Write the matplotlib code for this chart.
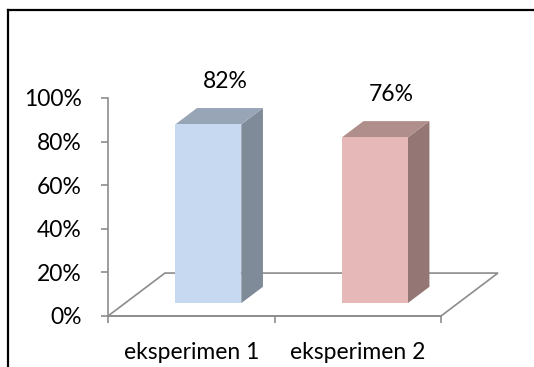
import matplotlib.pyplot as plt
from matplotlib.patches import Polygon
from matplotlib.lines import Line2D

# data
categories = ['eksperimen 1', 'eksperimen 2']
values = [82, 76]
front_colors = ['#C6D9F0', '#E6B9B8']
side_colors = ['#7F8B98', '#947775']
top_colors = ['#98A5B7', '#B08E8B']

plt.rcParams['font.family'] = ['Lato', 'DejaVu Sans']

fig = plt.figure(figsize=(5.34, 3.67), dpi=100)
ax = fig.add_axes([108 / 534, 51 / 367, 333 / 534, 218 / 367])
ax.set_xlim(0, 2)
ax.set_ylim(0, 100)

# oblique depth of floor in data units
DX, DY = 0.342, 19.7
d0, d1 = 0.30, 0.68   # bar front/back depth fraction
bw = 0.396

grey = '#8C8C8C'
fs = 16.5

# floor
floor = [(0, 0), (2, 0), (2 + DX, DY), (DX, DY)]
ax.add_patch(Polygon(floor, closed=True, fill=False, edgecolor=grey,
                     lw=1.2, clip_on=False, zorder=1))

for i, (v, fc, sc, tc) in enumerate(zip(values, front_colors, side_colors, top_colors)):
    xc = i + 0.5
    x0 = xc - bw / 2 + d0 * DX
    x1 = xc + bw / 2 + d0 * DX
    y0 = d0 * DY
    y1 = y0 + v
    ddx = (d1 - d0) * DX
    ddy = (d1 - d0) * DY
    front = [(x0, y0), (x1, y0), (x1, y1), (x0, y1)]
    side = [(x1, y0), (x1 + ddx, y0 + ddy), (x1 + ddx, y1 + ddy), (x1, y1)]
    top = [(x0, y1), (x1, y1), (x1 + ddx, y1 + ddy), (x0 + ddx, y1 + ddy)]
    for pts, c in [(side, sc), (top, tc), (front, fc)]:
        ax.add_patch(Polygon(pts, closed=True, facecolor=c, edgecolor='none',
                             clip_on=False, zorder=3))
    # value label above the bar
    ax.text((x0 + x1 + ddx) / 2 + 0.035, y1 + ddy + 12, f'{v}%', ha='center',
            va='center', fontsize=fs, color='black')

# axes styling
for s in ['top', 'right']:
    ax.spines[s].set_visible(False)
for s in ['left', 'bottom']:
    ax.spines[s].set_color(grey)
    ax.spines[s].set_linewidth(1.2)
ax.set_yticks(range(0, 101, 20))
ax.set_yticklabels([f'{t}%' for t in range(0, 101, 20)])
ax.set_xticks([0, 1, 2])
ax.set_xticklabels([])
ax.set_xticks([0.5, 1.5], minor=True)
ax.set_xticklabels(categories, minor=True)
ax.tick_params(axis='y', which='major', color=grey, width=1.2, length=5,
               labelsize=fs, pad=14)
ax.tick_params(axis='x', which='major', color=grey, width=1.2, length=5)
ax.tick_params(axis='x', which='minor', length=0, labelsize=fs, pad=18.5)
ax.patch.set_visible(False)

# chart frame (top and left edges only)
fig.add_artist(Line2D([8 / 534, 533 / 534], [1 - 10 / 367, 1 - 10 / 367],
                      color='black', lw=1.6))
fig.add_artist(Line2D([8 / 534, 8 / 534], [1 - 10 / 367, 0],
                      color='black', lw=1.6))

fig.savefig('out.png', dpi=100)
